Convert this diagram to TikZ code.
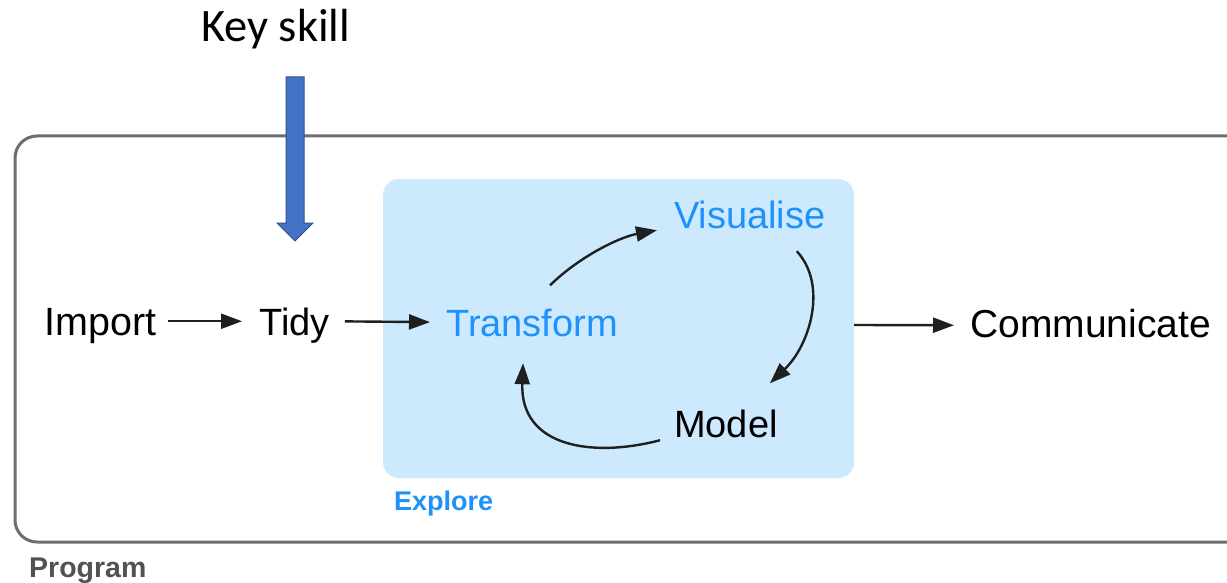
\documentclass[tikz,border=0pt]{standalone}
\usepackage{fontspec}
\setmainfont{Liberation Sans}
\newfontfamily\calfont{Carlito}
\usetikzlibrary{arrows.meta}
\definecolor{tblue}{RGB}{30,146,250}
\definecolor{efill}{RGB}{205,233,253}
\definecolor{pgray}{RGB}{110,110,110}
\definecolor{kfill}{RGB}{68,114,196}
\definecolor{kline}{RGB}{47,82,143}
\tikzset{
  lbl/.style={inner sep=0pt, anchor=base west, text height=27.5pt, text depth=0pt, font=\fontsize{38}{40}\selectfont},
  wide/.style={font=\fontsize{39.5}{41}\selectfont},
  arr/.style={draw=black!88, line width=2.4pt, -{Triangle[length=21pt,width=15pt]}},
  grouplbl/.style={inner sep=0pt, anchor=base west, font=\bfseries\fontsize{27}{29}\selectfont},
}
\begin{document}
\begin{tikzpicture}[x=1pt,y=-1pt]
\useasboundingbox (0,0) rectangle (1227,583);
\clip (0,0) rectangle (1227,583);
\fill[white] (0,0) rectangle (1227,583);
% Program frame
\draw[pgray, line width=3pt, rounded corners=22pt] (15,136) rectangle (1280,542);
\node[grouplbl, text=black!68, font=\bfseries\fontsize{28.5}{30}\selectfont] (program) at (29,577) {Program};
% Explore box
\fill[efill, rounded corners=16pt] (383,179) rectangle (854,478);
\node[grouplbl, text=tblue] (explore) at (394,510) {Explore};
% labels
\node[lbl, wide] (import) at (44,335) {Import};
\node[lbl] (tidy) at (259,335) {Tidy};
\node[lbl, text=tblue] (transform) at (446,336) {Transform};
\node[lbl, text=tblue] (visualise) at (674,229) {Visualise};
\node[lbl] (model) at (674,437) {Model};
\node[lbl, font=\fontsize{39}{41}\selectfont] (communicate) at (970,337) {Communicate};
% straight arrows
\draw[arr, shorten <=12pt, shorten >=17pt] (import.east) -- (tidy.west);
\draw[arr, shorten <=15pt, shorten >=16pt] (tidy.east) -- (transform.west);
\draw[arr] (854,325) -- ([xshift=-16pt,yshift=-2pt]communicate.west);
% cycle arrows
\draw[arr] ([xshift=18pt,yshift=23pt]transform.north) .. controls (580,256) and (620,237) .. ([xshift=-17pt,yshift=-15pt]visualise.west);
\draw[arr] ([xshift=-29pt,yshift=-22pt]visualise.south east) .. controls (828,285) and (810,345) .. ([xshift=-8pt,yshift=26pt]model.north east);
\draw[arr] ([xshift=-14pt,yshift=-17pt]model.west) .. controls (592,458) and (520,447) .. ([xshift=-9pt,yshift=-27pt]transform.south);
% Key skill
\node[inner sep=0pt, anchor=base west, font=\calfont\fontsize{46.5}{48}\selectfont] (keyskill) at (201,42) {Key skill};
\draw[fill=kfill, draw=kline, line width=1pt] (286,77) -- (304,77) -- (304,223) -- (313,223) -- (295,241) -- (277,223) -- (286,223) -- cycle;
\end{tikzpicture}
\end{document}
